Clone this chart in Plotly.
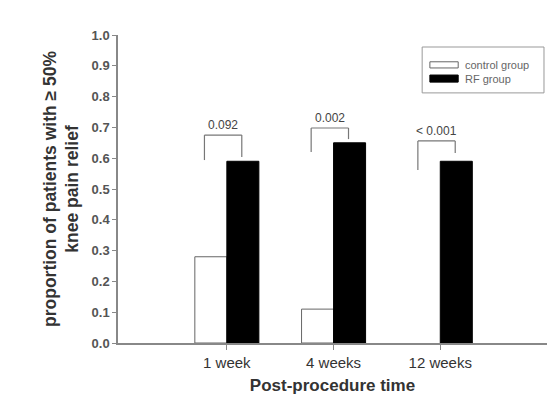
import plotly.graph_objects as go

# Proportion of patients reporting >= 50% knee pain relief
categories = ["1 week", "4 weeks", "12 weeks"]
control_group = [0.28, 0.11, 0.0]
rf_group = [0.59, 0.65, 0.59]
p_values = ["0.092", "0.002", "< 0.001"]
y_ticks = [0.0, 0.1, 0.2, 0.3, 0.4, 0.5, 0.6, 0.7, 0.8, 0.9, 1.0]

# Comparison bracket geometry: (top, left leg end, right leg end)
brackets = [(0.675, 0.594, 0.604), (0.698, 0.620, 0.662), (0.656, 0.562, 0.617)]
bracket_half = 0.16

FONT = "Arial, Liberation Sans, sans-serif"
x_idx = list(range(len(categories)))

fig = go.Figure()
fig.add_trace(go.Bar(x=x_idx, y=control_group, name="control group",
                     marker=dict(color="white",
                                 line=dict(color="#666",
                                           width=[1 if v > 0 else 0 for v in control_group])),
                     showlegend=False))
fig.add_trace(go.Bar(x=x_idx, y=rf_group, name="RF group",
                     marker=dict(color="black", line=dict(color="black", width=1)),
                     showlegend=False))

# Significance brackets and p-value labels
for i, (p, (top, left_end, right_end)) in enumerate(zip(p_values, brackets)):
    xl, xr = x_idx[i] - bracket_half - 0.05, x_idx[i] + bracket_half - 0.02
    line = dict(color="#777", width=1.2)
    fig.add_shape(type="line", x0=xl, x1=xr, y0=top, y1=top, line=line)
    fig.add_shape(type="line", x0=xl, x1=xl, y0=left_end, y1=top, line=line)
    fig.add_shape(type="line", x0=xr, x1=xr, y0=right_end, y1=top, line=line)
    fig.add_annotation(x=(xl + xr) / 2, y=top, text=p, showarrow=False,
                       yanchor="bottom", yshift=1,
                       font=dict(family=FONT, size=12, color="#444"))

# Legend box drawn in paper coordinates
fig.add_shape(type="rect", xref="paper", yref="paper", x0=0.709, x1=0.993,
              y0=0.812, y1=0.961, line=dict(color="#999", width=1), fillcolor="white")
fig.add_shape(type="rect", xref="paper", yref="paper", x0=0.727, x1=0.793,
              y0=0.893, y1=0.913, line=dict(color="#666", width=1), fillcolor="white")
fig.add_shape(type="rect", xref="paper", yref="paper", x0=0.727, x1=0.793,
              y0=0.847, y1=0.870, line=dict(color="black", width=1), fillcolor="black")
for label, ypos in [("control group", 0.903), ("RF group", 0.858)]:
    fig.add_annotation(xref="paper", yref="paper", x=0.805, y=ypos, text=label,
                       showarrow=False, xanchor="left", yanchor="middle",
                       font=dict(family=FONT, size=11, color="#666"))

fig.update_layout(
    width=550, height=411,
    margin=dict(l=118, r=3, t=35, b=68),
    paper_bgcolor="white", plot_bgcolor="white",
    barmode="group", bargap=0.4, bargroupgap=0,
    font=dict(family=FONT),
    xaxis=dict(
        range=[-1.02, 3.0], tickvals=x_idx, ticktext=categories,
        showline=True, linecolor="#888", linewidth=1.5,
        ticks="outside", ticklen=5, tickcolor="#888",
        showgrid=False, zeroline=False,
        tickfont=dict(family=FONT, size=15, color="#333"),
        title=dict(text="<b>Post-procedure time</b>", standoff=9,
                   font=dict(family=FONT, size=17, color="#333")),
    ),
    yaxis=dict(
        range=[0, 1.0], tickvals=y_ticks, tickformat=".1f",
        showline=True, linecolor="#888", linewidth=1.5,
        ticks="outside", ticklen=4, tickcolor="#888",
        showgrid=False, zeroline=False,
        tickfont=dict(family=FONT, size=13, color="#555", weight="bold"),
        title=dict(text="<b>proportion of patients with ≥ 50%<br>knee pain relief</b>",
                   standoff=8,
                   font=dict(family=FONT, size=17.5, color="#333")),
    ),
)

fig.write_html("out.html")
